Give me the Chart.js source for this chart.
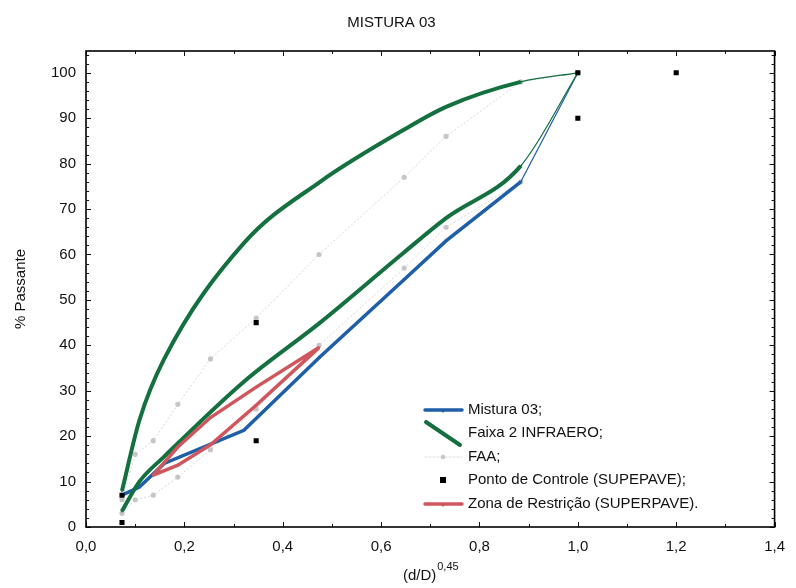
<!DOCTYPE html>
<html>
<head>
<meta charset="utf-8">
<script src="https://cdn.jsdelivr.net/npm/chart.js@4/dist/chart.umd.min.js"></script>
<style>
  html, body { margin: 0; padding: 0; background: #fff; }
  #wrap { width: 796px; height: 588px; position: relative; }
</style>
</head>
<body>
<div id="wrap"><canvas id="c" width="796" height="588"></canvas></div>
<script>
// ---- Data ----
const chartTitle = "MISTURA 03";
const xTicks = [0, 0.2, 0.4, 0.6, 0.8, 1.0, 1.2, 1.4];
const yTicks = [0, 10, 20, 30, 40, 50, 60, 70, 80, 90, 100];

// sieve positions (d/D)^0.45 for the mixture / INFRAERO sieves
const xSieves = [0.0732, 0.1086, 0.159, 0.321, 0.476, 0.647, 0.732, 0.884, 1.0];
const mistura03 = [7, 8.8, 14, 21.3, 37.5, 54.5, 63, 76, 100];
const infraeroUpper = [8, 23.5, 37, 62.5, 76, 87.5, 92.5, 98, 100];
const infraeroLower = [3.5, 10, 15.5, 32, 45, 60.5, 68, 79.5, 100];

// FAA sieves
const xFaa = [0.0732, 0.1, 0.1367, 0.1867, 0.2531, 0.346, 0.4737, 0.647, 0.732, 0.884, 1.0];
const faaUpper = [6, 16, 19, 27, 37, 46, 60, 77, 86, 98, 100];
const faaLower = [3, 6, 7, 11, 17, 26, 40, 57, 66, 76, 100];

// Superpave control points
const xControl = [1.2, 1.0, 1.0, 0.346, 0.346, 0.0732, 0.0732];
const yControl = [100, 100, 90, 45, 19, 7, 1];

// Superpave restricted zone (closed outline)
const xZone = [0.1367, 0.1867, 0.2531, 0.346, 0.4737, 0.346, 0.2531, 0.1867, 0.1367];
const yZone = [11.4, 17.6, 24.1, 30.8, 39.5, 26.8, 18.1, 13.6, 11.4];

const labels = {
  mistura: "Mistura 03;",
  infraero: "Faixa 2 INFRAERO;",
  faa: "FAA;",
  control: "Ponto de Controle (SUPEPAVE);",
  zone: "Zona de Restrição (SUPERPAVE)."
};

// ---- Styles ----
const BLUE = "#1f5ea8";
const GREEN = "#15703f";
const GRAY = "#d6d6d6";
const RED = "#cf565c";
const FONT = "'Liberation Sans', Arial, sans-serif";

const pts = (xs, ys) => xs.map((x, i) => ({ x: x, y: ys[i] }));
const lastThin = (w) => ({ borderWidth: ctx => (ctx.p1DataIndex === ctx.chart.data.datasets[ctx.datasetIndex].data.length - 1 ? 1.2 : w) });

const datasets = [
  { label: labels.control, data: pts(xControl, yControl), showLine: false,
    pointStyle: 'rect', pointRadius: 3.6, backgroundColor: '#000', borderColor: '#000', borderWidth: 0, order: 0 },
  { label: labels.zone, data: pts(xZone, yZone), showLine: true, borderColor: RED, borderWidth: 3.5,
    pointStyle: 'triangle', rotation: 180, pointRadius: 2, backgroundColor: RED, pointBorderWidth: 0, tension: 0, order: 1 },
  { label: labels.infraero, data: pts(xSieves, infraeroUpper), showLine: true, borderColor: GREEN, borderWidth: 4,
    pointStyle: 'triangle', rotation: 180, pointRadius: 2, backgroundColor: GREEN, pointBorderWidth: 0,
    tension: 0.4, cubicInterpolationMode: 'monotone', segment: lastThin(4), order: 2 },
  { label: labels.infraero + "_2", data: pts(xSieves, infraeroLower), showLine: true, borderColor: GREEN, borderWidth: 4,
    pointStyle: 'triangle', rotation: 180, pointRadius: 2, backgroundColor: GREEN, pointBorderWidth: 0,
    tension: 0.4, cubicInterpolationMode: 'monotone', segment: lastThin(4), order: 2 },
  { label: labels.faa, data: pts(xFaa, faaUpper), showLine: true, borderColor: GRAY, borderWidth: 1, borderDash: [2, 2],
    pointStyle: 'circle', pointRadius: 2.6, backgroundColor: '#c6c6c6', pointBorderWidth: 0, tension: 0, order: 4 },
  { label: labels.faa + "_2", data: pts(xFaa, faaLower), showLine: true, borderColor: GRAY, borderWidth: 1, borderDash: [2, 2],
    pointStyle: 'circle', pointRadius: 2.6, backgroundColor: '#c6c6c6', pointBorderWidth: 0, tension: 0, order: 4 },
  { label: labels.mistura, data: pts(xSieves, mistura03), showLine: true, borderColor: BLUE, borderWidth: 3.5,
    pointStyle: 'triangle', rotation: 180, pointRadius: 2, backgroundColor: BLUE, pointBorderWidth: 0,
    tension: 0, segment: lastThin(3.5), order: 3 }
];

const fmt = v => v.toFixed(1).replace('.', ',');

const framePlugin = {
  id: 'frame',
  afterDraw(chart) {
    const { ctx, chartArea: a, scales: { x, y } } = chart;
    ctx.save();
    const line = (x1, y1, x2, y2) => { ctx.beginPath(); ctx.moveTo(x1, y1); ctx.lineTo(x2, y2); ctx.stroke(); };
    ctx.strokeStyle = '#111';
    ctx.lineWidth = 1;
    for (let i = 0; i <= 14; i++) {
      const v = i / 10, px = Math.round(x.getPixelForValue(v)) + 0.5;
      const L = (i % 2 === 0) ? 5 : 3;
      line(px, a.bottom, px, a.bottom - L);
      line(px, a.top, px, a.top + L);
    }
    for (let v = 0; v <= 104; v += 2) {
      const py = Math.round(y.getPixelForValue(v)) + 0.5;
      const L = (v % 10 === 0) ? 5 : 3;
      line(a.left, py, a.left + L, py);
      line(a.right, py, a.right - L, py);
    }
    ctx.lineWidth = 1.6;
    ctx.strokeStyle = '#000';
    ctx.strokeRect(a.left, a.top, a.right - a.left, a.bottom - a.top);

    // axis titles
    ctx.fillStyle = '#111';
    ctx.font = '15px ' + FONT;
    ctx.textBaseline = 'middle';
    const t1 = '(d/D)', t2 = '0,45';
    const w1 = ctx.measureText(t1).width;
    ctx.font = '11px ' + FONT;
    const w2 = ctx.measureText(t2).width;
    const cx = (a.left + a.right) / 2;
    const sx = cx - (w1 + w2) / 2;
    ctx.font = '15px ' + FONT;
    ctx.textAlign = 'left';
    ctx.fillText(t1, sx, 576);
    ctx.font = '11px ' + FONT;
    ctx.fillText(t2, sx + w1 + 1, 567);

    ctx.save();
    ctx.translate(21, (a.top + a.bottom) / 2);
    ctx.rotate(-Math.PI / 2);
    ctx.font = '15px ' + FONT;
    ctx.textAlign = 'center';
    ctx.fillText('% Passante', 0, 0);
    ctx.restore();

    // legend
    const rows = [410, 433, 457, 480, 504];
    const sx0 = 425, sx1 = 462, tx = 468;
    ctx.font = '15px ' + FONT;
    ctx.textAlign = 'left';
    ctx.textBaseline = 'middle';
    const drawTri = (cx, cy, col) => { ctx.fillStyle = col; ctx.beginPath(); ctx.moveTo(cx - 3, cy - 1); ctx.lineTo(cx + 3, cy - 1); ctx.lineTo(cx, cy + 3); ctx.closePath(); ctx.fill(); };
    ctx.lineCap = 'round';
    ctx.strokeStyle = BLUE; ctx.lineWidth = 3.5; line(sx0, rows[0], sx1, rows[0]); drawTri(443, rows[0], BLUE);
    ctx.strokeStyle = GREEN; ctx.lineWidth = 4; line(sx0 + 1, rows[1] - 11, sx1 - 2, rows[1] + 12);
    ctx.strokeStyle = '#dcdcdc'; ctx.lineWidth = 1; ctx.setLineDash([2, 2]); line(sx0, rows[2], sx1, rows[2]); ctx.setLineDash([]);
    ctx.fillStyle = '#c8c8c8'; ctx.beginPath(); ctx.arc(443, rows[2], 2.3, 0, Math.PI * 2); ctx.fill();
    ctx.fillStyle = '#000'; ctx.fillRect(440, rows[3] - 3, 6, 6);
    ctx.strokeStyle = RED; ctx.lineWidth = 3.5; line(sx0, rows[4], sx1, rows[4]); drawTri(443, rows[4], RED);
    ctx.lineCap = 'butt';
    ctx.fillStyle = '#111';
    const texts = [labels.mistura, labels.infraero, labels.faa, labels.control, labels.zone];
    texts.forEach((t, i) => ctx.fillText(t, tx, rows[i]));
    ctx.restore();
  }
};

new Chart(document.getElementById('c'), {
  type: 'scatter',
  data: { datasets: datasets },
  options: {
    responsive: false,
    animation: false,
    devicePixelRatio: 1,
    layout: { padding: { left: 0, right: 13, top: 0, bottom: 0 } },
    plugins: {
      legend: { display: false },
      tooltip: { enabled: false },
      title: { display: true, text: chartTitle, color: '#111',
        font: { family: FONT, size: 15, weight: 'normal' }, padding: { top: 14, bottom: 19 } }
    },
    scales: {
      x: {
        type: 'linear', min: 0, max: 1.4,
        afterBuildTicks: s => { s.ticks = xTicks.map(v => ({ value: v })); },
        afterFit: s => { s.height = 61; },
        grid: { display: false, drawTicks: false },
        border: { display: false },
        ticks: { color: '#111', font: { family: FONT, size: 15 }, padding: 11, maxRotation: 0,
          callback: v => fmt(v) }
      },
      y: {
        type: 'linear', min: 0, max: 104.8,
        afterBuildTicks: s => { s.ticks = yTicks.map(v => ({ value: v })); },
        afterFit: s => { s.width = 86; },
        grid: { display: false, drawTicks: false },
        border: { display: false },
        ticks: { color: '#111', font: { family: FONT, size: 15 }, padding: 10, callback: v => String(v) }
      }
    }
  },
  plugins: [framePlugin]
});
</script>
</body>
</html>
